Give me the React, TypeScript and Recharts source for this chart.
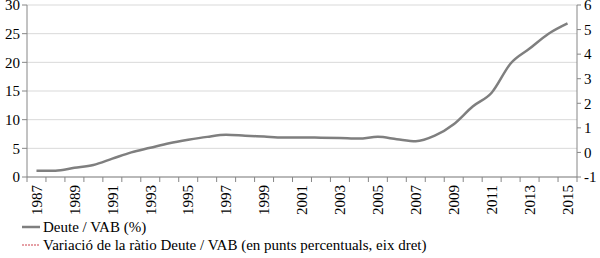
import { LineChart, Line, XAxis, YAxis, CartesianGrid, Legend } from "recharts";

const years = [
  1987, 1988, 1989, 1990, 1991, 1992, 1993, 1994, 1995, 1996, 1997, 1998, 1999, 2000, 2001,
  2002, 2003, 2004, 2005, 2006, 2007, 2008, 2009, 2010, 2011, 2012, 2013, 2014, 2015,
];
// Deute / VAB (%), left axis
const deute = [
  1.1, 1.1, 1.6, 2.1, 3.2, 4.3, 5.1, 5.9, 6.5, 7.0, 7.35, 7.2, 7.05, 6.9, 6.9,
  6.85, 6.8, 6.7, 7.0, 6.6, 6.25, 7.2, 9.2, 12.3, 14.7, 19.8, 22.4, 25.0, 26.8,
];
// labelled years on the x axis and the category edges where tick marks sit
const labelYears = [1987, 1989, 1991, 1993, 1995, 1997, 1999, 2001, 2003, 2005, 2007, 2009, 2011, 2013, 2015];
const edgeYears = [
  1986.5, 1987.5, 1988.5, 1989.5, 1990.5, 1991.5, 1992.5, 1993.5, 1994.5, 1995.5, 1996.5,
  1997.5, 1998.5, 1999.5, 2000.5, 2001.5, 2002.5, 2003.5, 2004.5, 2005.5, 2006.5, 2007.5,
  2008.5, 2009.5, 2010.5, 2011.5, 2012.5, 2013.5, 2014.5, 2015.5,
];
const leftTicks = [0, 5, 10, 15, 20, 25, 30];
const rightTicks = [-1, 0, 1, 2, 3, 4, 5, 6];

const data = years.map((year, i) => ({ year, deute: deute[i] }));
const xTicks = [...edgeYears, ...labelYears].sort((a, b) => a - b);

const FONT = "'Liberation Serif', 'Times New Roman', serif";
const AXIS = "#868686";

function YearTick({ x, y, payload }: any) {
  const v = payload.value as number;
  if (v % 1 !== 0) {
    return <line x1={x} x2={x} y1={y} y2={y + 5} stroke={AXIS} strokeWidth={1} />;
  }
  const ty = y + 8;
  return (
    <text
      x={x}
      y={ty}
      dy="0.35em"
      transform={`rotate(-90, ${x}, ${ty})`}
      textAnchor="end"
      fontSize={15}
      fontFamily={FONT}
      fill="#000"
    >
      {v}
    </text>
  );
}

function LegendBox({ payload }: any) {
  return (
    <div style={{ height: 40, fontFamily: FONT, fontSize: 15, color: "#000" }}>
      {(payload ?? []).map((p: any) => (
        <div
          key={p.value}
          style={{ display: "flex", alignItems: "center", height: 18, lineHeight: "18px", whiteSpace: "nowrap" }}
        >
          <svg width={43} height={10}>
            <line
              x1={22}
              x2={40}
              y1={5}
              y2={5}
              stroke={p.color}
              strokeWidth={p.payload?.strokeWidth ?? 2}
              strokeDasharray={p.payload?.strokeDasharray}
            />
          </svg>
          <span>{p.value}</span>
        </div>
      ))}
    </div>
  );
}

export default function App() {
  return (
    <div style={{ position: "absolute", top: 0, left: 0, width: 600, height: 258, background: "#fff" }}>
      <LineChart
        width={600}
        height={258}
        data={data}
        margin={{ top: 5, right: 0, bottom: 0, left: 0 }}
        style={{ fontFamily: FONT }}
      >
        <CartesianGrid yAxisId="left" vertical={false} stroke="#d9d9d9" />
        <XAxis
          dataKey="year"
          type="number"
          domain={[1986.5, 2015.5]}
          ticks={xTicks}
          interval={0}
          tickLine={false}
          tickSize={0}
          tickMargin={0}
          height={41}
          axisLine={{ stroke: AXIS }}
          tick={<YearTick />}
        />
        <YAxis
          yAxisId="left"
          domain={[0, 30]}
          ticks={leftTicks}
          interval={0}
          width={27}
          tickSize={5}
          tickMargin={2}
          axisLine={{ stroke: AXIS }}
          tickLine={{ stroke: AXIS }}
          tick={{ fill: "#000", fontSize: 15, fontFamily: FONT }}
        />
        <YAxis
          yAxisId="right"
          orientation="right"
          domain={[-1, 6]}
          allowDataOverflow
          ticks={rightTicks}
          interval={0}
          width={23}
          tickSize={4}
          tickMargin={3}
          axisLine={{ stroke: AXIS }}
          tickLine={{ stroke: AXIS }}
          tick={{ fill: "#000", fontSize: 15, fontFamily: FONT }}
        />
        <Legend verticalAlign="bottom" align="left" content={<LegendBox />} />
        <Line
          yAxisId="left"
          type="monotone"
          dataKey="deute"
          name="Deute / VAB (%)"
          stroke="#7f7f7f"
          strokeWidth={2.5}
          dot={false}
          isAnimationActive={false}
        />
        <Line
          yAxisId="right"
          type="monotone"
          dataKey="variacio"
          name="Variació de la ràtio Deute / VAB (en punts percentuals, eix dret)"
          stroke="#e6a0a6"
          strokeWidth={2}
          strokeDasharray="2 1"
          dot={false}
          isAnimationActive={false}
        />
      </LineChart>
    </div>
  );
}
